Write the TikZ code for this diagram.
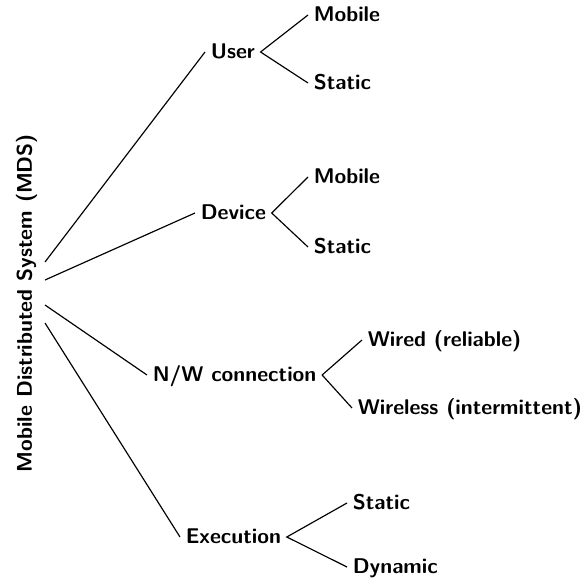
\documentclass[tikz,border=0pt]{standalone}
\usetikzlibrary{calc}
\begin{document}
\begin{tikzpicture}[
  x=0.46948pt, y=-0.46948pt,
  every node/.style={font=\sffamily\bfseries},
  item/.style={anchor=west, inner sep=2.5pt, text height=8pt, text depth=2pt},
  branch/.style={line width=0.55pt, black}
]
\useasboundingbox (0,0) rectangle (581,581);

% root, set vertically
\node[rotate=90, anchor=base, inner sep=0pt] (root) at (32,303) {Mobile Distributed System (MDS)};
\coordinate (r1) at ($(root.base)+(13,-41)$);
\coordinate (r2) at ($(root.base)+(13,-23)$);
\coordinate (r3) at ($(root.base)+(13,2)$);
\coordinate (r4) at ($(root.base)+(13,20)$);

% first level
\node[item] (user)  at (205,52)  {User};
\node[item] (dev)   at (195,213) {Device};
\node[item] (net)   at (147,375) {N/W connection};
\node[item] (exec)  at (180,537) {Execution};

% second level
\node[item] (umob)  at (308,15)  {Mobile};
\node[item] (usta)  at (308,83)  {Static};
\node[item] (dmob)  at (308,177) {Mobile};
\node[item] (dsta)  at (308,247) {Static};
\node[item] (wired) at (362,340) {Wired (reliable)};
\node[item] (wless) at (352,408) {Wireless (intermittent)};
\node[item] (esta)  at (347,503) {Static};
\node[item] (edyn)  at (347,567) {Dynamic};

% connectors
\draw[branch] (r1) -- (user.west);
\draw[branch] (r2) -- (dev.west);
\draw[branch] (r3) -- (net.west);
\draw[branch] (r4) -- (exec.west);

\draw[branch] (umob.west) -- (user.east) -- (usta.west);
\draw[branch] (dmob.west) -- (dev.east) -- (dsta.west);
\draw[branch] (wired.west) -- (net.east) -- (wless.west);
\draw[branch] (esta.west) -- (exec.east) -- (edyn.west);
\end{tikzpicture}
\end{document}
